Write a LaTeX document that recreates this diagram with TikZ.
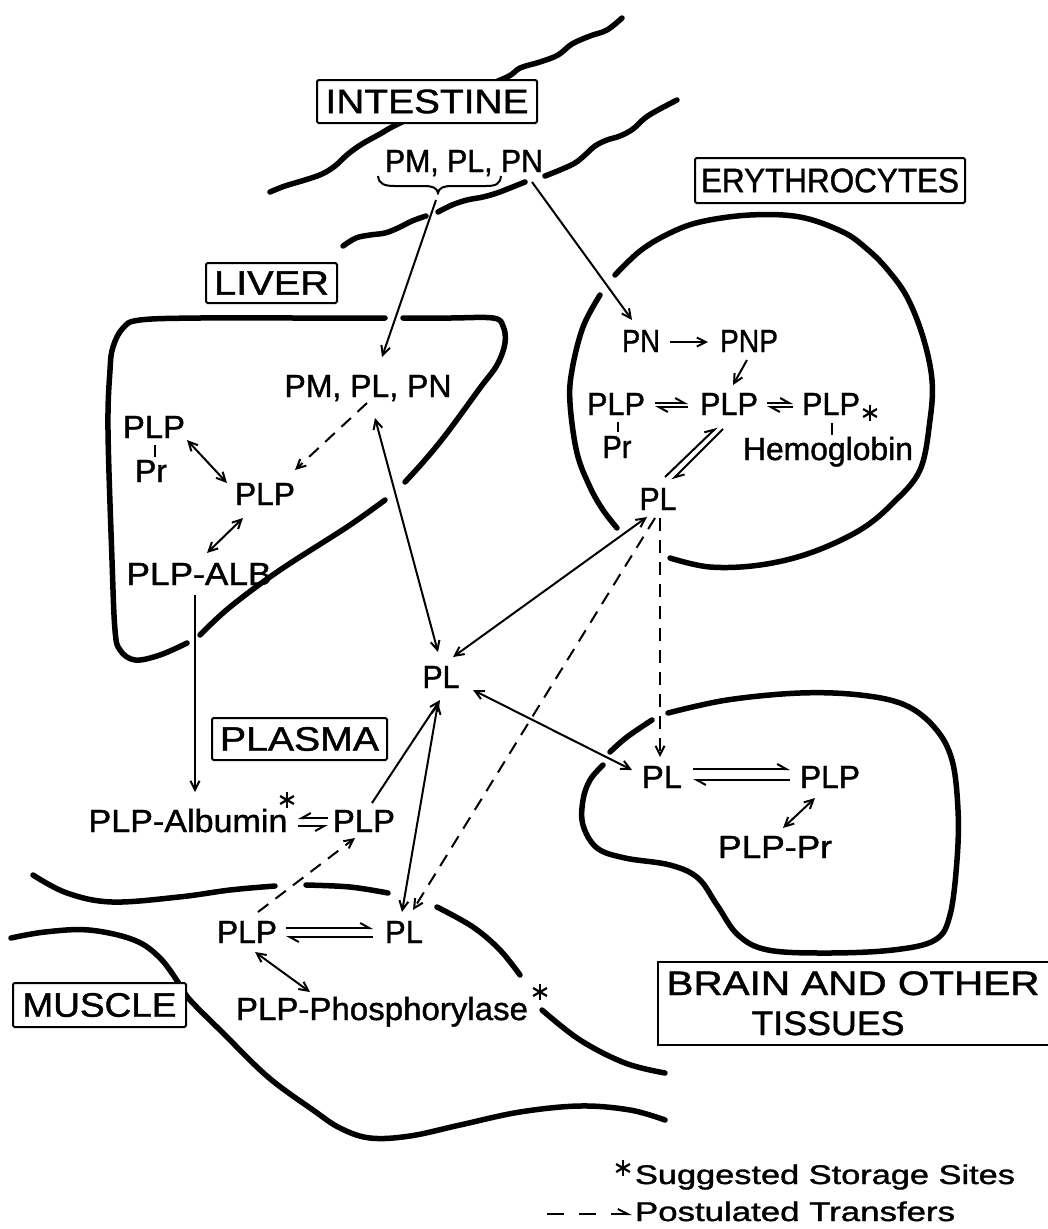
\documentclass[tikz,border=0pt]{standalone}
\usepackage{graphicx}
\usepackage{fontspec}
\setmainfont{Liberation Sans}[FakeBold=1.2]
\usetikzlibrary{arrows.meta,calc}
\newcommand\tw[2]{\resizebox{#1pt}{\height}{#2}}
\begin{document}
\begin{tikzpicture}[x=1pt,y=-1pt,
  every node/.style={inner sep=0pt, outer sep=0pt},
  txt/.style={font=\fontsize{32}{38}\selectfont, anchor=base},
  labfont/.style={font=\fontsize{34}{40}\selectfont},
  lab/.style={draw, line width=2pt, fill=white, labfont, rounded corners=1.5pt},
  memb/.style={line width=5.5pt, line cap=round, line join=round},
  thin/.style={line width=2pt},
  ar/.style={thin, -{Straight Barb[length=9pt,width=9pt]}},
  arr/.style={thin, {Straight Barb[length=9pt,width=9pt]}-{Straight Barb[length=9pt,width=9pt]}},
  hp/.style={thin, -{Straight Barb[harpoon,length=9pt,width=10pt]}},
  hps/.style={thin, -{Straight Barb[harpoon,swap,length=9pt,width=10pt]}},
  dsh/.style={thin, dash pattern=on 13pt off 9pt, -{Straight Barb[length=9pt,width=9pt]}},
  astk/.style={minimum size=17pt, path picture={
      \foreach \a in {90,30,150}{\draw[line width=2.2pt]
      ($(path picture bounding box.center)+(\a:8pt)$) -- ($(path picture bounding box.center)+(\a+180:8pt)$);}}}
]
\fill[white] (0,0) rectangle (1047,1229);
\useasboundingbox (0,0) rectangle (1047,1229);

% ---------- intestine walls
\draw[memb] plot[smooth, tension=0.6] coordinates {(270,192) (285,186) (305,180) (322,174) (335,166) (348,154) (362,144) (380,134) (398,124) (450,100) (505,78) (520,68) (540,62) (558,55) (572,44) (590,36) (607,30) (622,18)};
\draw[memb] plot[smooth, tension=0.6] coordinates {(343,246) (356,238) (370,235) (385,233) (398,228) (412,221) (426,216)};
\draw[memb] plot[smooth, tension=0.6] coordinates {(438,212) (452,205) (467,200) (483,197) (497,193) (510,188) (525,182)};
\draw[memb] plot[smooth, tension=0.6] coordinates {(545,176) (560,170) (575,163) (585,155) (595,146) (607,140) (620,136) (633,129) (645,118) (658,110) (677,100)};

% ---------- liver
\draw[memb] plot[smooth, tension=0.6] coordinates {(403,318) (450,318) (493,318) (503,326) (505,343) (497,365) (480,388) (447,433) (425,460) (405,482)};
\draw[memb] plot[smooth, tension=0.6] coordinates {(385,500) (347,527) (280,570) (230,607) (200,635)};
\draw[memb] plot[smooth, tension=0.6] coordinates {(187,643) (160,655) (135,660) (120,650) (115,630) (112,560) (108,430) (110,370) (113,347) (123,328) (140,320) (200,318) (300,318) (385,318)};

% ---------- erythrocyte
\draw[memb] plot[smooth, tension=0.6] coordinates {(615,275) (640,251) (668,234) (700,222) (750,215) (800,217) (843,232) (867,249) (887,269) (907,297) (923,337) (932,380) (930,420) (920,470) (893,503) (860,530) (810,553) (760,565) (710,567) (670,558)};
\draw[memb] plot[smooth, tension=0.6] coordinates {(600,295) (583,327) (572,370) (570,403) (577,453) (590,487) (603,510) (617,528)};

% ---------- brain
\draw[memb] plot[smooth, tension=0.6] coordinates {(668,713) (727,700) (800,693) (860,695) (905,705) (935,728) (952,760) (958,810) (957,860) (950,915) (935,940) (893,950) (827,953) (768,950) (738,935) (717,905) (698,878) (670,865) (625,858) (597,848) (583,825) (583,800) (590,780) (603,765)};
\draw[memb] plot[smooth, tension=0.6] coordinates {(610,752) (627,737) (652,720)};

% ---------- muscle
\draw[memb] plot[smooth, tension=0.6] coordinates {(33,875) (67,893) (112,902) (179,897) (230,890) (275,886)};
\draw[memb] plot[smooth, tension=0.6] coordinates {(306,885) (350,887) (388,893)};
\draw[memb] plot[smooth, tension=0.6] coordinates {(437,907) (473,927) (500,950) (520,975)};
\draw[memb] plot[smooth, tension=0.6] coordinates {(542,1010) (580,1040) (625,1063) (665,1073)};
\draw[memb] plot[smooth, tension=0.6] coordinates {(11,938) (45,932) (89,930) (134,940) (160,958) (180,985) (190,1000) (223,1033) (268,1077) (313,1110) (340,1128) (370,1138) (410,1136) (460,1125) (520,1112) (580,1106) (630,1110) (665,1120)};

% ---------- texts
\node[txt] (tpm) at (464,172) {\tw{158}{PM, PL, PN}};
\node[txt] (lpm) at (368,397) {\tw{167}{PM, PL, PN}};
\node[txt] (lplp1) at (154,438) {\tw{62}{PLP}};
\node[txt] (lpr) at (151,482) {\tw{32}{Pr}};
\node[txt] (lplp) at (265,505) {\tw{60}{PLP}};
\node[txt] (lalb) at (199,585) {\tw{145}{PLP-ALB}};
\node[txt] (epn) at (641,352) {\tw{38}{PN}};
\node[txt] (epnp) at (749,352) {\tw{58}{PNP}};
\node[txt] (eplp1) at (616,415) {\tw{58}{PLP}};
\node[txt] (epr) at (617,458) {\tw{29}{Pr}};
\node[txt] (eplp) at (729,415) {\tw{58}{PLP}};
\node[txt] (eplp2) at (831,415) {\tw{58}{PLP}};
\node[txt] (ehb) at (828,460) {\tw{170}{Hemoglobin}};
\node[txt] (epl) at (658,510) {\tw{37}{PL}};
\node[txt] (cpl) at (441,688) {\tw{37}{PL}};
\node[txt] (bpl) at (662,788) {\tw{40}{PL}};
\node[txt] (bplp) at (830,788) {\tw{60}{PLP}};
\node[txt] (bpr) at (775,858) {\tw{114}{PLP-Pr}};
\node[txt] (palb) at (188,832) {\tw{199}{PLP-Albumin}};
\node[txt] (pplp) at (364,832) {\tw{62}{PLP}};
\node[txt] (mplp) at (247,943) {\tw{60}{PLP}};
\node[txt] (mpl) at (404,943) {\tw{38}{PL}};
\node[txt] (mph) at (382,1020) {\tw{292}{PLP-Phosphorylase}};

% stars
\node[astk] (st1) at (870,413) {};
\node[astk] (st2) at (287,800) {};
\node[astk] (st3) at (540,992) {};
\node[astk] (st4) at (623,1168) {};

% bond ticks
\draw[thin] ($(lplp1.base)+(1,7)$) -- ($(lpr.base)+(4,-25)$);
\draw[thin] ($(eplp1.base)+(2,7)$) -- ($(epr.base)+(1,-26)$);
\draw[thin] ($(eplp2.base)+(1,8)$) -- ($(ehb.base)+(4,-25)$);

% brace
\coordinate (bt) at (438,193);
\draw[thin] (378,176) .. controls (379,184) and (384,186) .. (395,186) -- (424,186) .. controls (433,186) and (437,188) .. (bt) .. controls (439,188) and (443,186) .. (452,186) -- (486,186) .. controls (496,186) and (500,184) .. (501,176);

% ---------- solid connectors
\draw[ar] ($(bt)+(-2,7)$) -- ($(lpm.base)+(14,-40)$);
\draw[ar] ($(tpm.base)+(68,10)$) -- ($(epn.base)+(-9,-32)$);
\draw[arr] ($(lpm.base)+(7,21)$) -- ($(cpl.base)+(-3,-36)$);
\draw[arr] ($(epl.base)+(-11,7)$) -- ($(cpl.base)+(12,-31)$);
\draw[arr] ($(cpl.base)+(32,2)$) -- ($(bpl.base)+(-30,-18)$);
\draw[ar] ($(pplp.base)+(8,-29)$) -- ($(cpl.base)+(-1,12)$);
\draw[arr] ($(cpl.base)+(-3,15)$) -- ($(mpl.base)+(-2,-31)$);
\draw[ar] ($(lalb.base)+(-4,10)$) -- ($(palb.base)+(7,-40)$);
\draw[arr] ($(lplp1.base)+(33,2)$) -- ($(lplp.base)+(-38,-22)$);
\draw[arr] ($(lplp.base)+(-22,13)$) -- ($(lalb.base)+(8,-32)$);
\draw[ar] ($(epn.base)+(29,-10)$) -- ($(epnp.base)+(-41,-10)$);
\draw[ar] ($(epnp.base)+(-2,8)$) -- ($(eplp.base)+(4,-30)$);
\draw[arr] ($(mplp.base)+(8,9)$) -- ($(mph.base)+(-72,-28)$);
\draw[arr] ($(bplp.base)+(-15,10)$) -- ($(bpr.base)+(8,-30)$);

% ---------- dashed connectors
\draw[dsh] ($(lpm.base)+(-1,6)$) -- ($(lplp.base)+(30,-35)$);
\draw[dsh] ($(epl.base)+(2,8)$) -- ($(bpl.base)+(-2,-31)$);
\draw[dsh] ($(epl.base)+(-3,8)$) -- ($(mpl.base)+(9,-33)$);
\draw[dsh] ($(mplp.base)+(11,-31)$) -- ($(pplp.base)+(-9,6)$);

% ---------- equilibria
\draw[hp] ($(eplp1.base)+(39,-12)$) -- ($(eplp.base)+(-41,-12)$);
\draw[hp] ($(eplp.base)+(-41,-8)$) -- ($(eplp1.base)+(39,-8)$);
\draw[hp] ($(eplp.base)+(38,-12)$) -- ($(eplp2.base)+(-38,-12)$);
\draw[hp] ($(eplp2.base)+(-38,-8)$) -- ($(eplp.base)+(38,-8)$);
\draw[hp] ($(epl.base)+(7,-33)$) -- ($(eplp.base)+(-12,12)$);
\draw[hp] ($(eplp.base)+(-6,14)$) -- ($(epl.base)+(14,-30)$);
\draw[hps] ($(pplp.base)+(-36,-14)$) -- ($(palb.base)+(110,-14)$);
\draw[hps] ($(palb.base)+(110,-6)$) -- ($(pplp.base)+(-36,-6)$);
\draw[hp] ($(mplp.base)+(39,-15)$) -- ($(mpl.base)+(-31,-15)$);
\draw[hp] ($(mpl.base)+(-31,-6)$) -- ($(mplp.base)+(39,-6)$);
\draw[hp] ($(bpl.base)+(31,-19)$) -- ($(bplp.base)+(-40,-19)$);
\draw[hp] ($(bplp.base)+(-40,-8)$) -- ($(bpl.base)+(31,-8)$);

% ---------- labels
\node[lab, minimum width=220pt, minimum height=43pt] (lint) at (427,101.5) {\tw{203}{INTESTINE}};
\node[lab, minimum width=131pt, minimum height=40pt] (lliv) at (271.5,283) {\tw{115}{LIVER}};
\node[lab, minimum width=270pt, minimum height=45pt] (lery) at (830,180.5) {\tw{258}{ERYTHROCYTES}};
\node[lab, minimum width=175pt, minimum height=42pt] (lpla) at (299.5,739) {\tw{159}{PLASMA}};
\node[lab, minimum width=173pt, minimum height=44pt] (lmus) at (99.5,1005) {\tw{154}{MUSCLE}};
\draw[line width=2pt] (1052,962) -- (658,962) -- (658,1045) -- (1052,1045);
\node[txt, labfont] (lbr1) at (853,995) {\tw{373}{BRAIN AND OTHER}};
\node[txt, labfont] (lbr2) at (828,1035) {\tw{153}{TISSUES}};

% ---------- legend
\node[txt, anchor=base west, font=\fontsize{27}{30}\selectfont] (lg1) at (635,1184) {\tw{380}{Suggested Storage Sites}};
\node[txt, anchor=base west, font=\fontsize{27}{30}\selectfont] (lg2) at (635,1221) {\tw{320}{Postulated Transfers}};
\coordinate (la) at (547,1214);
\coordinate (lb) at (632,1214);
\draw[thin, dash pattern=on 17pt off 15pt, -{Straight Barb[harpoon,length=10pt,width=10pt]}] (la) -- (lb);
\end{tikzpicture}
\end{document}
